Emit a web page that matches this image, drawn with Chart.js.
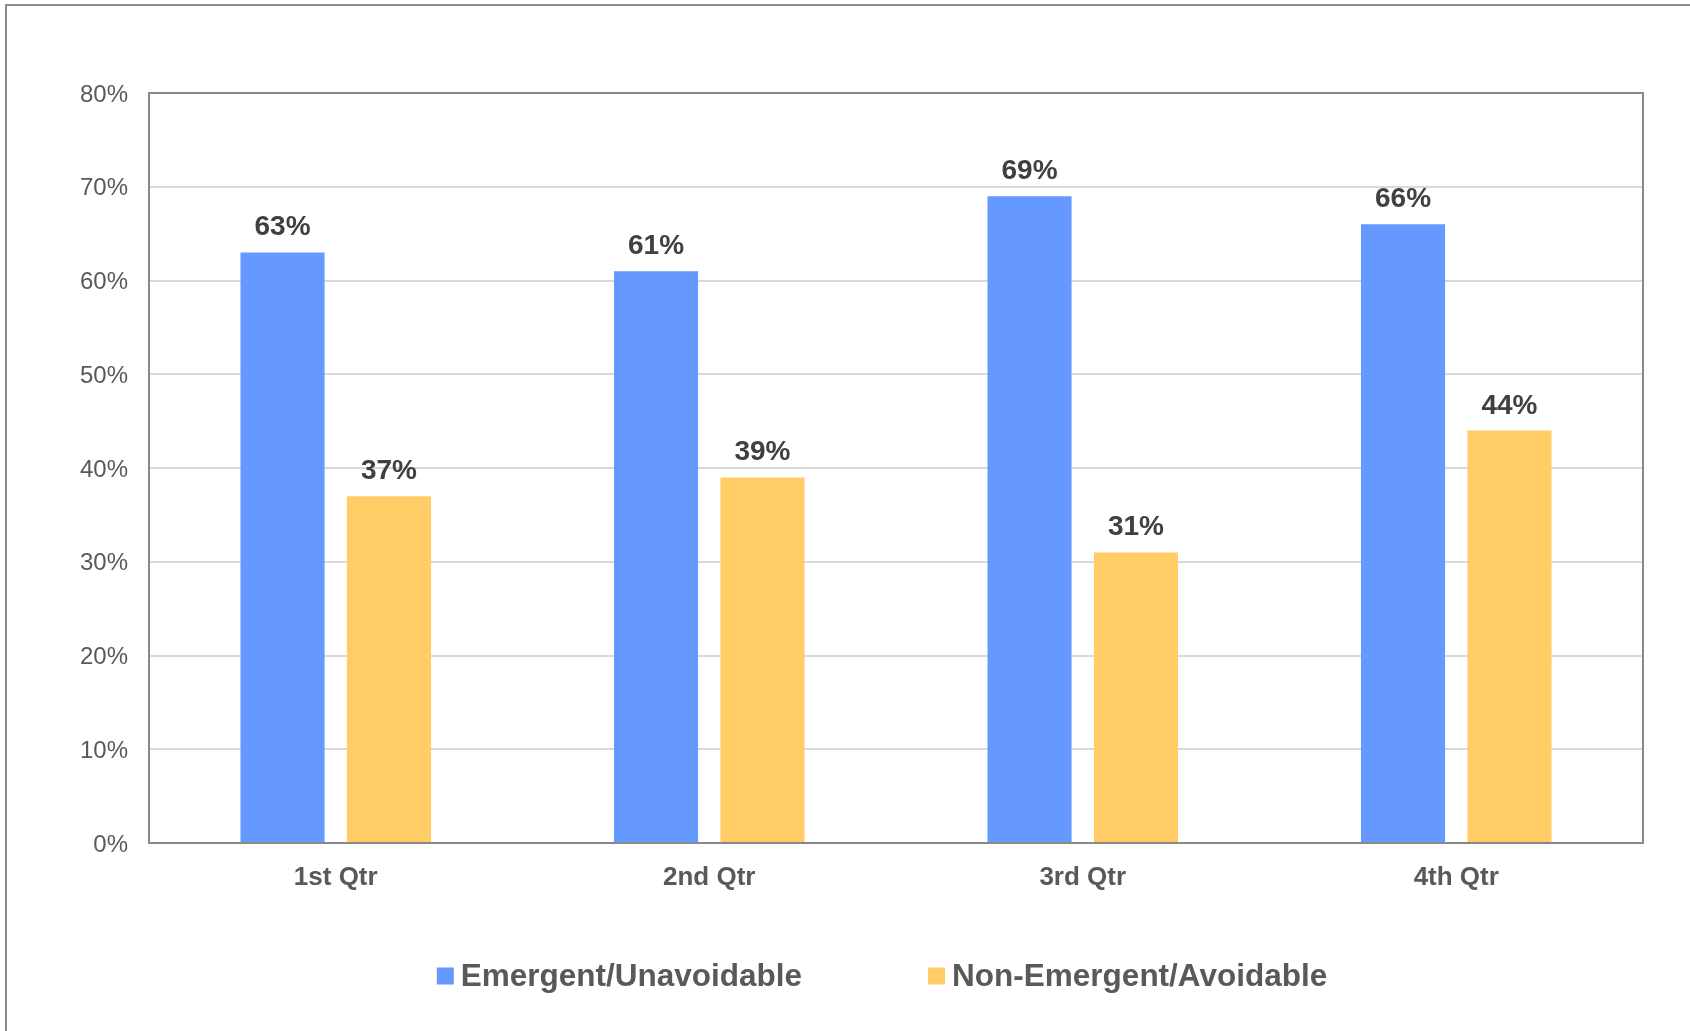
<!DOCTYPE html>
<html>
<head>
<meta charset="utf-8">
<title>Visits by Quarter</title>
<script src="https://cdn.jsdelivr.net/npm/chart.js@4/dist/chart.umd.min.js"></script>
<style>
  html, body { margin: 0; padding: 0; background: #fff; }
  #chart { display: block; }
</style>
</head>
<body>
<canvas id="chart" width="1690" height="1031"></canvas>
<script>
const quarters = ["1st Qtr", "2nd Qtr", "3rd Qtr", "4th Qtr"];
const emergent = [63, 61, 69, 66];
const nonEmergent = [37, 39, 31, 44];
const seriesNames = ["Emergent/Unavoidable", "Non-Emergent/Avoidable"];
const seriesColors = ["#6699ff", "#ffcc66"];

const FONT = "'Liberation Sans', Arial, sans-serif";

// outer frame of the picture, only top and left edges are visible
const outerFrame = {
  id: "outerFrame",
  beforeDraw(chart) {
    const ctx = chart.ctx;
    ctx.save();
    ctx.strokeStyle = "#8c8c8c";
    ctx.lineWidth = 2;
    ctx.beginPath();
    ctx.moveTo(6, chart.height);
    ctx.lineTo(6, 5);
    ctx.lineTo(chart.width, 5);
    ctx.stroke();
    ctx.restore();
  }
};

// box around the plot area
const plotFrame = {
  id: "plotFrame",
  beforeDatasetsDraw(chart) {
    const { ctx, chartArea } = chart;
    ctx.save();
    ctx.strokeStyle = "#898989";
    ctx.lineWidth = 2;
    ctx.strokeRect(chartArea.left, chartArea.top,
      chartArea.right - chartArea.left, chartArea.bottom - chartArea.top);
    ctx.restore();
  }
};

// value labels above each bar
const valueLabels = {
  id: "valueLabels",
  afterDatasetsDraw(chart) {
    const ctx = chart.ctx;
    ctx.save();
    ctx.font = "bold 28px " + FONT;
    ctx.fillStyle = "#404040";
    ctx.textAlign = "center";
    ctx.textBaseline = "alphabetic";
    chart.data.datasets.forEach((ds, i) => {
      chart.getDatasetMeta(i).data.forEach((bar, j) => {
        ctx.fillText(ds.data[j] + "%", bar.x, bar.y - 17);
      });
    });
    ctx.restore();
  }
};

// legend row under the axis
const bottomLegend = {
  id: "bottomLegend",
  afterDraw(chart) {
    const ctx = chart.ctx;
    const box = 17;
    const textGap = 7;
    const itemGap = 126;
    const centerX = 882;
    const midY = 976;
    ctx.save();
    ctx.font = "bold 31.5px " + FONT;
    const widths = chart.data.datasets.map((ds) => box + textGap + ctx.measureText(ds.label).width);
    const total = widths.reduce((a, b) => a + b, 0) + itemGap * (widths.length - 1);
    let x = centerX - total / 2;
    ctx.textBaseline = "middle";
    ctx.textAlign = "left";
    chart.data.datasets.forEach((ds, i) => {
      ctx.fillStyle = ds.backgroundColor;
      ctx.fillRect(x, midY - box / 2, box, box);
      ctx.fillStyle = "#595959";
      ctx.fillText(ds.label, x + box + textGap, midY + 1);
      x += widths[i] + itemGap;
    });
    ctx.restore();
  }
};

const ctx = document.getElementById("chart").getContext("2d");

new Chart(ctx, {
  type: "bar",
  data: {
    labels: quarters,
    datasets: [
      {
        label: seriesNames[0],
        data: emergent,
        backgroundColor: seriesColors[0],
        categoryPercentage: 0.57,
        barPercentage: 0.79,
      },
      {
        label: seriesNames[1],
        data: nonEmergent,
        backgroundColor: seriesColors[1],
        categoryPercentage: 0.57,
        barPercentage: 0.79,
      }
    ]
  },
  options: {
    responsive: false,
    animation: false,
    layout: { padding: { left: 0, right: 47, top: 93, bottom: 0 } },
    plugins: {
      legend: { display: false },
      tooltip: { enabled: false },
    },
    scales: {
      x: {
        grid: { display: false, drawTicks: false },
        border: { display: false },
        ticks: {
          padding: 19,
          color: "#595959",
          font: { family: FONT, size: 26, weight: "bold" },
        },
        afterFit(scale) { scale.height = 188; },
      },
      y: {
        min: 0,
        max: 80,
        grid: { color: "#d9d9d9", lineWidth: 2, drawTicks: false },
        border: { display: false },
        ticks: {
          stepSize: 10,
          padding: 21,
          labelOffset: 2,
          color: "#595959",
          font: { family: FONT, size: 24 },
          callback: (v) => v + "%",
        },
        afterFit(scale) { scale.width = 149; },
      }
    }
  },
  plugins: [outerFrame, plotFrame, valueLabels, bottomLegend]
});
</script>
</body>
</html>
